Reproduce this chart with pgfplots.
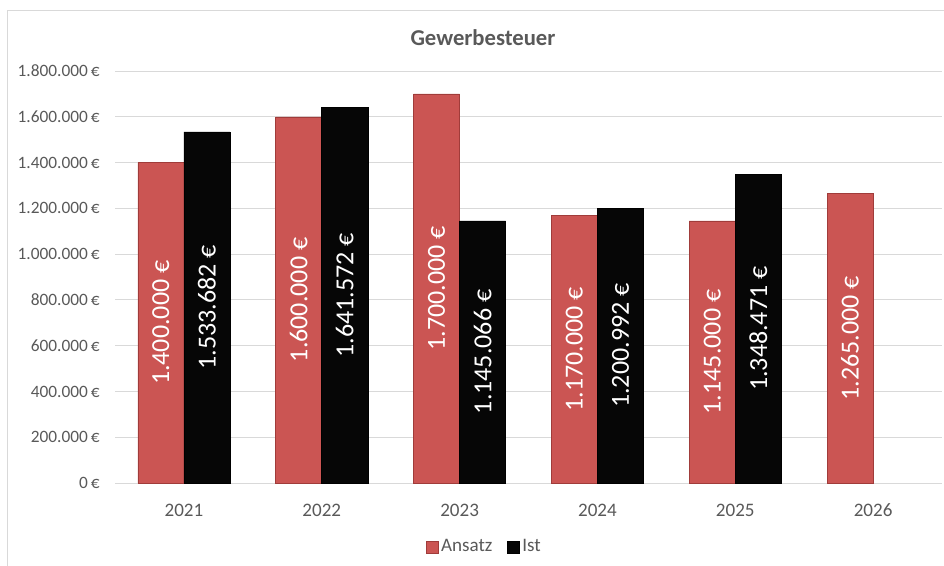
\documentclass[border=0pt]{standalone}
\usepackage{fontspec}
\setmainfont{Carlito}
\usepackage{pgfplots}
\pgfplotsset{compat=1.18}
\definecolor{ansatz}{RGB}{203,85,83}
\definecolor{ansatzdark}{RGB}{160,60,58}
\definecolor{ist}{RGB}{6,6,6}
\definecolor{txt}{RGB}{89,89,89}
\definecolor{gridc}{RGB}{217,217,217}

\begin{document}
\begin{tikzpicture}
\path[use as bounding box] (0,0) rectangle (708pt,423.75pt);
\draw[gridc, line width=0.75pt] (5.25pt,-2pt) -- (5.25pt,415.5pt) -- (712pt,415.5pt);
\node[font=\fontsize{17}{20}\selectfont\bfseries, text=txt] at (362.25pt,395.25pt) {Gewerbesteuer};
\begin{axis}[
  at={(86.25pt,61.5pt)}, anchor=south west,
  scale only axis, width=620.25pt, height=309pt,
  xmin=-0.5, xmax=5.5, ymin=0, ymax=1800,
  ybar, bar width=0.334,
  axis x line*=bottom, axis y line*=left,
  y axis line style={draw=none},
  x axis line style={gridc, line width=0.75pt, -},
  major tick length=0pt,
  xtick={0,1,2,3,4,5}, xticklabels={2021,2022,2023,2024,2025,2026},
  ytick={0,200,400,600,800,1000,1200,1400,1600,1800},
  yticklabels={0\,€,200.000\,€,400.000\,€,600.000\,€,800.000\,€,1.000.000\,€,1.200.000\,€,1.400.000\,€,1.600.000\,€,1.800.000\,€},
  ymajorgrids, grid style={gridc, line width=0.75pt},
  yticklabel style={font=\fontsize{13}{15}\selectfont, text=txt, anchor=east, xshift=-8pt},
  xticklabel style={font=\fontsize{14.3}{16}\selectfont, text=txt, anchor=center, yshift=-20.25pt},
  visualization depends on={rawy*0.0858333 \as \halfh},
  nodes near coords={\pgfmathprintnumber[fixed, fixed zerofill, precision=3, 1000 sep={.}, dec sep={.}, assume math mode=true]{\pgfplotspointmeta}~€},
  every node near coord/.append style={yshift=-\halfh pt, rotate=90, anchor=center, text=white, font=\fontsize{19.5}{22}\selectfont},
  legend columns=2,
  legend style={draw=none, fill=none, at={(0.447,-0.155)}, anchor=center, font=\fontsize{14.3}{16}\selectfont, text=txt,
    /tikz/every even column/.append style={column sep=9pt}},
  legend image code/.code={\fill[#1] (0pt,-4.5pt) rectangle (9pt,4.5pt);},
]
\addplot[fill=ansatz, draw=ansatzdark, line width=0.4pt, bar shift=-0.167] coordinates {
  (0,1400) (1,1600) (2,1700) (3,1170) (4,1145) (5,1265)};
\addplot[fill=ist, draw=black, line width=0.4pt, bar shift=0.167] coordinates {
  (0,1533.682) (1,1641.572) (2,1145.066) (3,1200.992) (4,1348.471)};
\legend{Ansatz, Ist}
\end{axis}
\end{tikzpicture}
\end{document}
